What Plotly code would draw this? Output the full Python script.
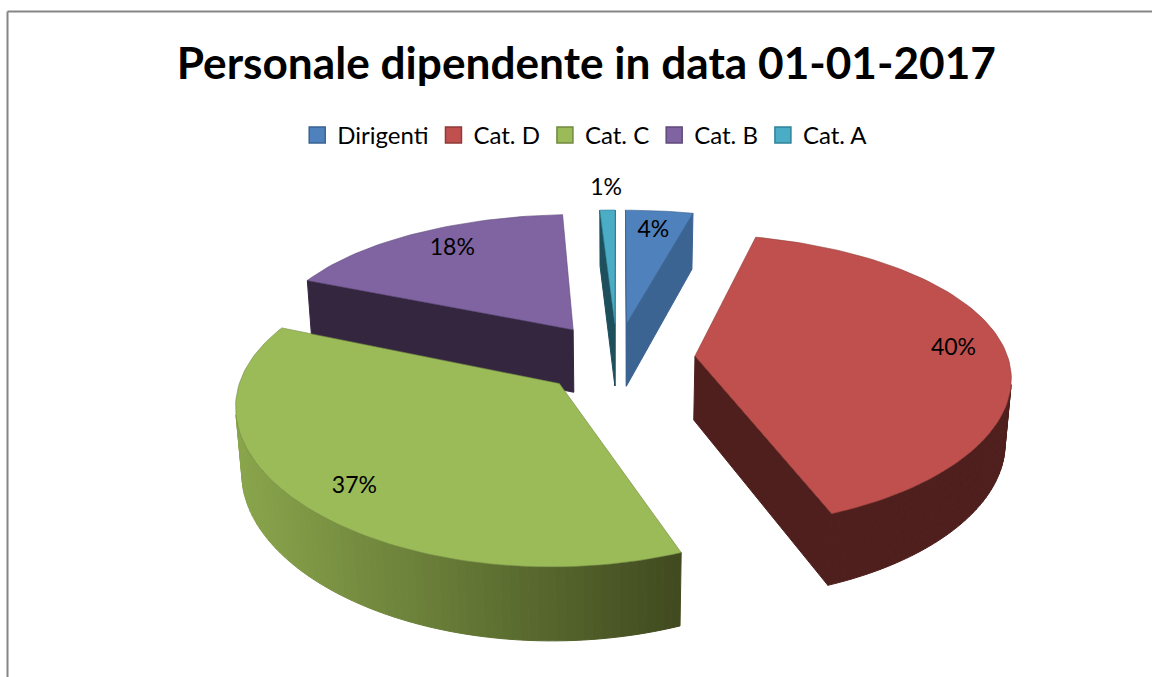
import math
import plotly.graph_objects as go

# ---- data ----
categories = ["Dirigenti", "Cat. D", "Cat. C", "Cat. B", "Cat. A"]
values = [4.0, 40.2, 37.2, 17.7, 0.9]
title_text = "Personale dipendente in data 01-01-2017"

# ---- styles ----
top_colors = ["#4F81BD", "#C0504D", "#9BBB59", "#8064A2", "#4BACC6"]
edge_colors = ["#3A6291", "#8E3A38", "#71893F", "#5E4A7A", "#2F8399"]
radial_colors = ["#3C6493", "#4F1F1D", "#3F4A20", "#352640", "#1D4F5C"]
wall_left = ["#3C6493", "#4F1F1D", "#8AA64C", "#352640", "#1D4F5C"]
wall_right = ["#3C6493", "#4F1F1D", "#404A1F", "#352640", "#1D4F5C"]
draw_order = [3, 4, 0, 1, 2]
label_radius = [0.80, 0.835, 0.84, 0.80, 1.22]
label_turn = [0, 0, -2.2, 1.3, 0]
FONT = "Lato"

# ---- projection of the exploded pie (canvas is in pixels) ----
CX, CY = 617.0, 358.0
FX, DX = 2191.0, 7.0
FY, DY = 1632.0, 5.3
TILT = math.radians(27.7)
HEIGHT, EXPLODE = 0.24, 0.25


def project(x, y, z=0.0):
    s, c = math.sin(TILT), math.cos(TILT)
    sy = y * s + z * c
    dy = y * c - z * s
    return CX + FX * x / (DX + dy), CY - FY * sy / (DY + dy)


def hex_mix(a, b, t):
    pa = [int(a[i:i + 2], 16) for i in (1, 3, 5)]
    pb = [int(b[i:i + 2], 16) for i in (1, 3, 5)]
    return "#%02x%02x%02x" % tuple(round(u + (v - u) * t) for u, v in zip(pa, pb))


def signed_area(pts):
    return sum(pts[i][0] * pts[(i + 1) % len(pts)][1] - pts[(i + 1) % len(pts)][0] * pts[i][1]
               for i in range(len(pts))) / 2


def poly(fig, pts, fill, line=None, width=1):
    xs = [p[0] for p in pts] + [pts[0][0]]
    ys = [p[1] for p in pts] + [pts[0][1]]
    fig.add_trace(go.Scatter(x=xs, y=ys, mode="lines", fill="toself", fillcolor=fill,
                             line=dict(color=line or fill, width=width),
                             hoverinfo="skip", showlegend=False))


fig = go.Figure()
total = sum(values)
label_texts = ["%d%%" % round(100 * v / total) for v in values]
starts, acc = [], 0.0
for v in values:
    starts.append(acc)
    acc += v

xmin, xmax = 232.0, 680.0
for i in draw_order:
    a0 = 2 * math.pi * starts[i] / total
    a1 = 2 * math.pi * (starts[i] + values[i]) / total
    mid = (a0 + a1) / 2
    ox, oy = EXPLODE * math.sin(mid), EXPLODE * math.cos(mid)
    n = max(4, int(values[i] * 2.5))
    angs = [a0 + (a1 - a0) * k / n for k in range(n + 1)]
    P = lambda a, z=0.0: project(ox + math.sin(a), oy + math.cos(a), z)
    apex_t, apex_b = project(ox, oy), project(ox, oy, -HEIGHT)
    # radial walls
    for a, sign in ((a0, 1), (a1, -1)):
        q = [apex_t, P(a), P(a, -HEIGHT), apex_b]
        if sign * signed_area(q) < 0:
            poly(fig, q, radial_colors[i])
    # curved wall
    for k in range(n):
        q = [P(angs[k]), P(angs[k + 1]), P(angs[k + 1], -HEIGHT), P(angs[k], -HEIGHT)]
        if signed_area(q) < 0:
            t = min(1, max(0, ((q[0][0] + q[1][0]) / 2 - xmin) / (xmax - xmin)))
            poly(fig, q, hex_mix(wall_left[i], wall_right[i], t))
    # top face
    top = [apex_t] + [P(a) for a in angs]
    poly(fig, top, top_colors[i], edge_colors[i], 0.6)

# data labels
lx, ly = [], []
for i in range(len(values)):
    mid = 2 * math.pi * (starts[i] + values[i] / 2) / total + math.radians(label_turn[i])
    r = label_radius[i] + EXPLODE
    px, py = project(r * math.sin(mid), r * math.cos(mid))
    lx.append(px)
    ly.append(py)
fig.add_trace(go.Scatter(x=lx, y=ly, mode="text", text=label_texts,
                         textfont=dict(family=FONT, size=23, color="#000000"),
                         hoverinfo="skip", showlegend=False))

# legend entries
for c, col, e in zip(categories, top_colors, edge_colors):
    fig.add_trace(go.Scatter(x=[None], y=[None], mode="markers", name=c,
                             marker=dict(symbol="square", size=16, color=col,
                                         line=dict(color=e, width=1.5))))

fig.update_layout(
    width=1152, height=677, margin=dict(l=0, r=0, t=0, b=0),
    paper_bgcolor="white", plot_bgcolor="white",
    title=dict(text="<b>" + title_text + "</b>", x=0.509, xanchor="center",
               y=0.906, yanchor="middle", font=dict(family=FONT, size=44.2, color="#000000")),
    legend=dict(orientation="h", x=0.508, xanchor="center", y=0.80, yanchor="middle",
                font=dict(family=FONT, size=24, color="#000000"),
                bgcolor="rgba(0,0,0,0)"),
    xaxis=dict(range=[0, 1152], visible=False, fixedrange=True),
    yaxis=dict(range=[677, 0], visible=False, fixedrange=True),
    shapes=[dict(type="line", x0=7.5, x1=7.5, y0=11.5, y1=677, line=dict(color="#868686", width=2)),
            dict(type="line", x0=7.5, x1=1152, y0=11.5, y1=11.5, line=dict(color="#868686", width=2))],
)
fig.write_html("out.html", config=dict(displayModeBar=False),
               post_script="document.body.style.margin='0';document.documentElement.style.overflow='hidden';")
